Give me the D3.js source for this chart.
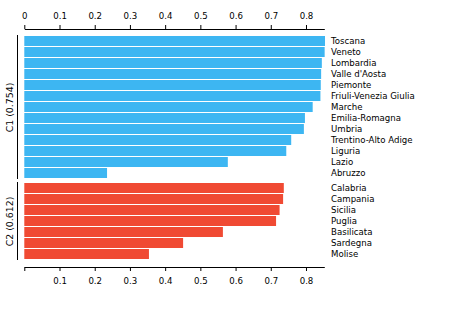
<!DOCTYPE html>
<html>
<head>
<meta charset="utf-8">
<script src="https://cdn.jsdelivr.net/npm/d3@7"></script>
<style>
	body { margin: 0; background: #fff; }
	svg text { font-family: Tahoma, "DejaVu Sans", sans-serif; font-size: 8.6px; fill: #000; }
</style>
</head>
<body>
<div id="chart"></div>
<script>

// regions per cluster, with their scores
const c1Names = ["Toscana", "Veneto", "Lombardia", "Valle d'Aosta", "Piemonte", "Friuli-Venezia Giulia",
	"Marche", "Emilia-Romagna", "Umbria", "Trentino-Alto Adige", "Liguria", "Lazio", "Abruzzo"];
const c1Values = [0.854, 0.853, 0.845, 0.843, 0.842, 0.841, 0.819, 0.797, 0.794, 0.758, 0.744, 0.578, 0.235];

const c2Names = ["Calabria", "Campania", "Sicilia", "Puglia", "Basilicata", "Sardegna", "Molise"];
const c2Values = [0.737, 0.735, 0.725, 0.715, 0.564, 0.451, 0.354];

const groupNames = ["C1", "C2"];
const xTicks = [0, 0.1, 0.2, 0.3, 0.4, 0.5, 0.6, 0.7, 0.8];

const width = 466, height = 328;

let svg = d3.select("#chart")
			.append("svg")
			.attr("width", width)
			.attr("height", height);

const xScale = d3.scaleLinear()
				.domain([0, 0.852])
				.range([24.3, 324.3]);

// top axis
svg.append("g")
	.attr("transform", "translate(0,29)")
	.call(d3.axisTop(xScale).tickValues(xTicks).tickSize(4).tickSizeOuter(0).tickPadding(6).tickFormat(d3.format("")))
	.call(g => g.selectAll("text").attr("fill", "#000").style("font-size", "8.6px"))
	.call(g => g.selectAll("line,path").attr("stroke", "#000"));

// bottom axis, no label on 0
svg.append("g")
	.attr("transform", "translate(0,267)")
	.call(d3.axisBottom(xScale).tickValues(xTicks).tickSize(4).tickSizeOuter(0).tickPadding(7)
		.tickFormat(d => d === 0 ? "" : d3.format("")(d)))
	.call(g => g.selectAll("text").attr("fill", "#000").style("font-size", "8.6px"))
	.call(g => g.selectAll("line,path").attr("stroke", "#000"));

const groups = [
	{ name: groupNames[0], names: c1Names, values: c1Values, color: "#3db6f2", range: [36, 178] },
	{ name: groupNames[1], names: c2Names, values: c2Values, color: "#f04a33", range: [183, 259] }
];

groups.forEach(grp => {
	const rows = grp.names.map((n, i) => ({ name: n, value: grp.values[i] }));

	const yScale = d3.scaleBand()
					.domain(grp.names)
					.range(grp.range)
					.paddingInner(1 / 11)
					.paddingOuter(0);

	let g = svg.append("g");

	g.selectAll("rect")
		.data(rows)
		.enter()
		.append("rect")
		.attr("x", xScale(0))
		.attr("y", d => yScale(d.name))
		.attr("width", d => xScale(d.value) - xScale(0))
		.attr("height", yScale.bandwidth())
		.attr("fill", grp.color);

	g.selectAll("text.region")
		.data(rows)
		.enter()
		.append("text")
		.attr("class", "region")
		.attr("x", 331)
		.attr("y", d => yScale(d.name) + yScale.bandwidth() / 2)
		.attr("dy", "0.35em")
		.text(d => d.name);

	// bracket and cluster label on the left
	const y0 = grp.range[0], y1 = grp.range[1] + 1;
	g.append("line")
		.attr("x1", 17.5).attr("x2", 17.5)
		.attr("y1", y0 - 1).attr("y2", y1)
		.attr("stroke", "#000");

	const mean = d3.mean(grp.values);
	g.append("text")
		.attr("transform", `translate(13,${(y0 + y1) / 2}) rotate(-90)`)
		.attr("text-anchor", "middle")
		.style("font-size", "9.4px")
		.text(`${grp.name} (${d3.format(".3f")(mean)})`);
});

</script>
</body>
</html>
